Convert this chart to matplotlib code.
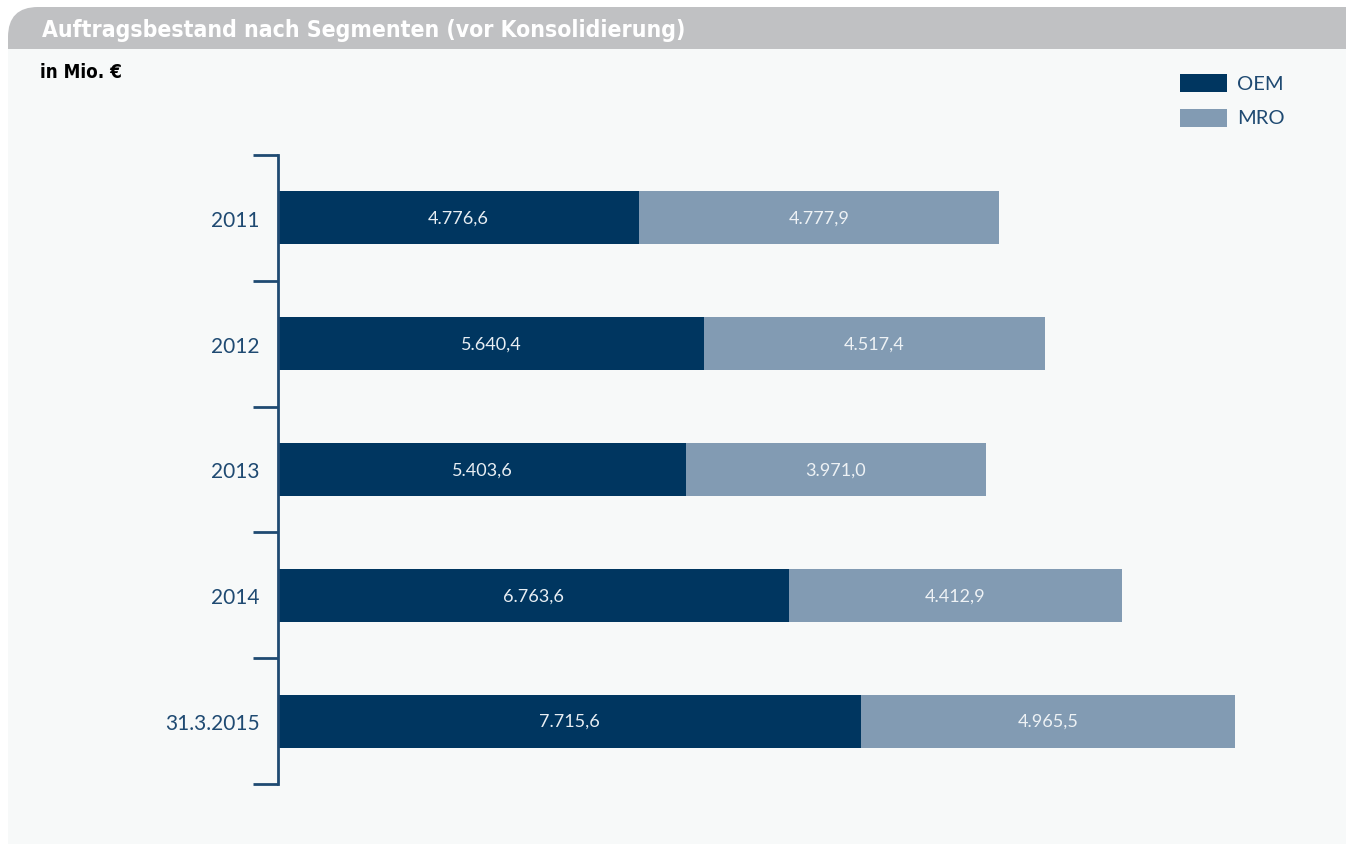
import matplotlib
matplotlib.use('Agg')
import matplotlib.pyplot as plt
from matplotlib.patches import FancyBboxPatch, Rectangle
import numpy as np

# data
labels = ['2011', '2012', '2013', '2014', '31.3.2015']
oem = [4776.6, 5640.4, 5403.6, 6763.6, 7715.6]
mro = [4777.9, 4517.4, 3971.0, 4412.9, 4965.5]

def de(v):
    s = '{:,.1f}'.format(v)
    return s.replace(',', 'X').replace('.', ',').replace('X', '.')

c_oem = '#003660'
c_mro = '#829bb3'
c_txt = '#1f4a72'
bg = '#f7f9f9'
W, H = 1346, 845

plt.rcParams['font.family'] = ['Lato', 'DejaVu Sans']
fig = plt.figure(figsize=(W / 100, H / 100), dpi=100)
fig.patch.set_facecolor('white')

# background in pixel coords
bga = fig.add_axes([0, 0, 1, 1])
bga.set_xlim(0, W)
bga.set_ylim(H, 0)
bga.axis('off')
bga.add_patch(FancyBboxPatch((8, 8), 1500, 80, boxstyle='round,pad=0,rounding_size=30',
                             fc='#c0c1c3', ec='none'))
bga.add_patch(Rectangle((8, 50), W, H, fc=bg, ec='none'))
bga.text(42, 30, 'Auftragsbestand nach Segmenten (vor Konsolidierung)', color='white',
         fontsize=16.5, fontweight='bold', va='center', ha='left',
         family='DejaVu Sans', fontstretch='condensed')
bga.text(40, 73, 'in Mio. €', color='black', fontsize=13.5, fontweight='bold', va='center',
         ha='left', family='DejaVu Sans', fontstretch='condensed')

# legend
for i, (name, c) in enumerate([('OEM', c_oem), ('MRO', c_mro)]):
    y0 = 75 + i * 35
    bga.add_patch(Rectangle((1180, y0), 47, 18, fc=c, ec='none'))
    bga.text(1237, y0 + 9, name, color=c_txt, fontsize=14.5, va='center', ha='left')

# chart axes: left 278px, top 156px, bottom 785px
left, top, bottom, right = 278, 156, 785, 1300
ax = fig.add_axes([left / W, 1 - bottom / H, (right - left) / W, (bottom - top) / H])
ax.set_facecolor('none')
xmax = (right - left) / 0.0755
ax.set_xlim(0, xmax)
ax.set_ylim(len(labels) - 0.5, -0.5)

y = np.arange(len(labels))
h = 0.42
ax.barh(y, oem, height=h, color=c_oem, linewidth=0)
ax.barh(y, mro, left=oem, height=h, color=c_mro, linewidth=0)

for yi, a, b in zip(y, oem, mro):
    ax.text(a / 2, yi, de(a), color='#e8eef3', fontsize=13, ha='center', va='center')
    ax.text(a + b / 2, yi, de(b), color='#eef2f5', fontsize=13, ha='center', va='center')

for s in ['top', 'right', 'bottom']:
    ax.spines[s].set_visible(False)
ax.spines['left'].set_color(c_txt)
ax.spines['left'].set_linewidth(2)
ax.set_xticks([])
ax.set_yticks(np.arange(len(labels) + 1) - 0.5)
ax.set_yticklabels([])
ax.tick_params(axis='y', length=18, width=2, color=c_txt)
ax.set_yticks(y, minor=True)
ax.set_yticklabels(labels, minor=True)
ax.tick_params(axis='y', which='minor', length=0, pad=13, labelsize=15, labelcolor=c_txt)

fig.savefig('out.png', dpi=100, facecolor=fig.get_facecolor())
